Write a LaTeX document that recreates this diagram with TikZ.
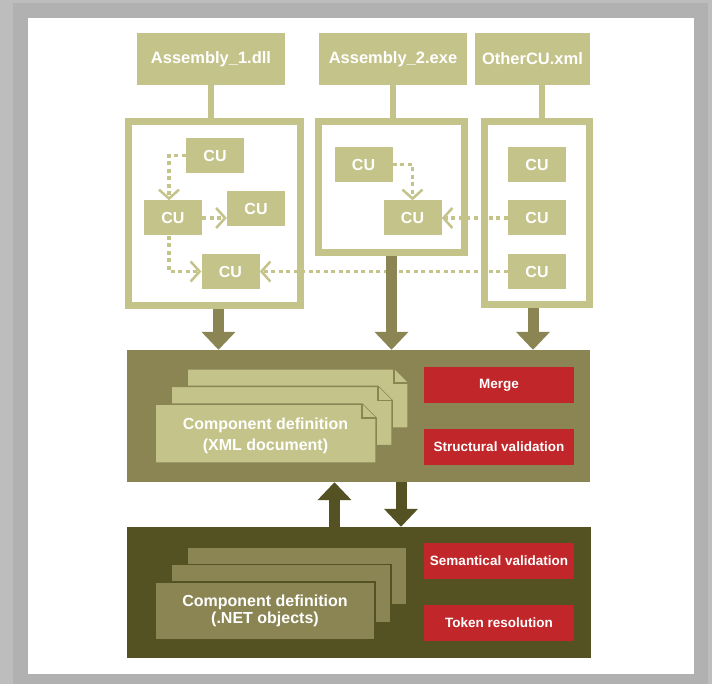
\documentclass[tikz,border=0pt]{standalone}
\usepackage{fontspec}
\setmainfont{Liberation Sans}
\usetikzlibrary{positioning,calc}
\usetikzlibrary{arrows.meta}

\definecolor{khaki}{HTML}{C4C38A}
\definecolor{olive}{HTML}{8A8553}
\definecolor{darkolive}{HTML}{545222}
\definecolor{redbox}{HTML}{C1272A}
\definecolor{greyout}{HTML}{BDBDBD}
\definecolor{greyin}{HTML}{B1B1B1}

\begin{document}
\begin{tikzpicture}[x=1pt, y=-1pt,
	box/.style = {fill=khaki, text=white, inner sep=0, font=\bfseries\fontsize{16.5}{19}\selectfont,
		minimum height=52},
	cu/.style = {fill=khaki, text=white, inner sep=0, font=\bfseries\fontsize{16}{19}\selectfont,
		minimum width=58, minimum height=35},
	frame/.style = {draw=khaki, line width=7, fill=white, inner sep=0},
	stem/.style = {draw=khaki, line width=6},
	cuflow/.style = {draw=khaki, line width=3.5, dash pattern=on 4pt off 3.5pt,
		-{Straight Barb[length=9pt, width=20pt, line width=2.5pt]}},
	panel/.style = {inner sep=0, minimum width=463, minimum height=132},
	bigarrow/.style = {line width=11, -{Triangle[width=33pt, length=18pt]}},
	task/.style = {fill=redbox, text=white, inner sep=0, font=\bfseries\fontsize{13.5}{16}\selectfont,
		minimum width=150, minimum height=36},
	doctext/.style = {text=white, align=center, font=\bfseries\fontsize{16}{21}\selectfont}]

% background and white sheet
\fill [greyout] (0, 0) rectangle (712, 684);
\fill [greyin] (13, 3) rectangle (708, 684);
\fill [white] (28, 18) rectangle (694, 674);

% input files
\node [box, minimum width=148] (asm1) at (211, 59) {Assembly\_1.dll};
\node [box, minimum width=148] (asm2) at (393, 59) {Assembly\_2.exe};
\node [box, minimum width=115] (other) at (532.5, 59) {OtherCU.xml};

% frames holding the compilation units
\node [frame, minimum width=172, minimum height=184] (fA) at (214.5, 213.5) {};
\node [frame, minimum width=146, minimum height=131] (fB) at (391.5, 187) {};
\node [frame, minimum width=105, minimum height=183] (fC) at (537, 213) {};

\draw [stem] (asm1.south) -- (asm1.south |- fA.north);
\draw [stem] (asm2.south) -- (asm2.south |- fB.north);
\draw [stem] ([xshift=9]other.south) -- ([xshift=9]other.south |- fC.north);

\node [cu] (cuA) at (215, 155.5) {CU};
\node [cu] (cuB) at (173, 218) {CU};
\node [cu] (cuC) at (256, 209) {CU};
\node [cu] (cuD) at (230.5, 271.5) {CU};

\node [cu] (cuE) at (363.5, 164.5) {CU};
\node [cu] (cuF) at (412.5, 218) {CU};

\node [cu] (cuG) at (537, 164.5) {CU};
\node [cu] (cuH) at (537, 218) {CU};
\node [cu] (cuI) at (537, 271.5) {CU};

% references between units
\draw [cuflow] (cuA.west) -| ([xshift=-4]cuB.north);
\draw [cuflow] (cuB.east) -- (cuB.east -| cuC.west);
\draw [cuflow] ([xshift=-4]cuB.south) |- (cuD.west);
\draw [cuflow] (cuE.east) -| (cuF.north);
\draw [cuflow] (cuH) -- (cuF);
\draw [cuflow] (cuI) -- (cuD);

% XML stage
\node [panel, fill=olive] (xmlstage) at (358.5, 416) {};
\foreach \i in {2,1,0} {
	\draw [draw=olive, line width=1.5, fill=khaki]
		({155+16*\i}, {404-17.5*\i}) -- ++(207, 0) -- ++(14, 14) -- ++(0, 45) -- ++(-221, 0) -- cycle;
	\draw [draw=olive, line width=1.5, fill=khaki]
		({362+16*\i}, {404-17.5*\i}) -- ++(0, 14) -- ++(14, 0);
}
\node [doctext] (xmldoc) at (265.5, 436) {Component definition\\(XML document)};
\node [task] (merge) at (499, 385) {Merge};
\node [task] (structval) at (499, 446.5) {Structural validation};

\draw [bigarrow, olive] ([xshift=4]fA.south) -- ([xshift=4]fA.south |- xmlstage.north);
\draw [bigarrow, olive] (fB.south) -- (fB.south |- xmlstage.north);
\draw [bigarrow, olive] ([xshift=-4]fC.south) -- ([xshift=-4]fC.south |- xmlstage.north);

% .NET stage
\node [panel, fill=darkolive, minimum width=464, minimum height=131] (netstage) at (359, 592.5) {};
\foreach \i in {2,1,0} {
	\draw [draw=darkolive, line width=1.5, fill=olive]
		({155+16*\i}, {582-17.5*\i}) rectangle ++(220, 58);
}
\node [doctext, font=\bfseries\fontsize{16}{17}\selectfont] (netdoc) at (265, 611) {Component definition\\(.NET objects)};
\node [task] (semval) at (499, 561) {Semantical validation};
\node [task] (tokres) at (499, 623) {Token resolution};

\draw [bigarrow, darkolive] ([xshift=-24.5]netstage.north) -- ([xshift=-24.5]netstage.north |- xmlstage.south);
\draw [bigarrow, darkolive] ([xshift=42.5]xmlstage.south) -- ([xshift=42.5]xmlstage.south |- netstage.north);

\end{tikzpicture}
\end{document}
